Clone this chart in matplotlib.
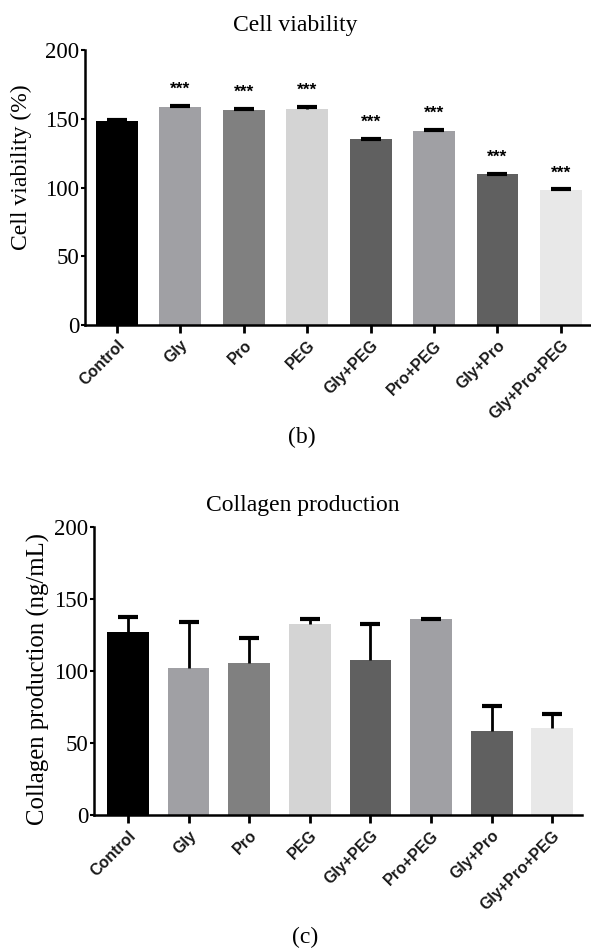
import numpy as np
import matplotlib
matplotlib.use("Agg")
import matplotlib.pyplot as plt

groups = ["Control", "Gly", "Pro", "PEG", "Gly+PEG", "Pro+PEG", "Gly+Pro", "Gly+Pro+PEG"]
colors = ["#000000", "#a0a0a4", "#808080", "#d4d4d4",
          "#606060", "#a0a0a4", "#606060", "#e8e8e8"]

viability = [148.6, 158.5, 156.4, 157.6, 135.5, 141.0, 110.3, 98.0]
viability_err = [0.6, 1.2, 1.0, 1.0, 0.0, 1.0, 0.0, 0.8]
viability_sig = ["", "***", "***", "***", "***", "***", "***", "***"]

collagen = [127.3, 102.0, 106.0, 133.0, 108.0, 136.0, 58.3, 60.6]
collagen_err = [10.3, 32.3, 17.1, 3.0, 24.4, 0.5, 17.6, 9.7]

SERIF = "Liberation Serif"
SANS = "Liberation Sans"

fig = plt.figure(figsize=(5.91, 9.48), dpi=100)


def bar_panel(ax, vals, errs, ylabel, label_size, xlim, width):
    x = np.arange(len(groups))
    ax.bar(x, vals, width=width, color=colors, zorder=2)
    _, caps, _ = ax.errorbar(x, vals, yerr=[np.zeros(len(errs)), errs],
                             fmt="none", ecolor="black", elinewidth=2,
                             capsize=7.5, capthick=3, zorder=3)
    caps[0].set_visible(False)  # only the upper cap
    ax.set_xlim(*xlim)
    ax.set_ylim(0, 200)
    ax.set_yticks([0, 50, 100, 150, 200])
    ax.set_xticks(x)
    ax.set_xticklabels(groups, rotation=45, ha="right", rotation_mode="anchor",
                       fontfamily=SANS, fontweight="bold", fontsize=11.5,
                       color="#1a1a1a")
    for lab in ax.get_yticklabels():
        lab.set_fontfamily(SERIF)
        lab.set_fontsize(16.5)
    ax.tick_params(axis="y", length=3, width=1.5, pad=1)
    ax.tick_params(axis="x", length=6, width=2, pad=3)
    for s in ["top", "right"]:
        ax.spines[s].set_visible(False)
    for s in ["left", "bottom"]:
        ax.spines[s].set_linewidth(1.8)
    ax.set_ylabel(ylabel, fontfamily=SERIF, fontsize=label_size)


ax1 = fig.add_axes([85 / 591, 0.657, 505 / 591, 0.290])
bar_panel(ax1, viability, viability_err, "Cell viability (%)", 17,
          (-0.505, 7.46), 0.66)
ax1.yaxis.set_label_coords(-0.105, 0.576)
for i, (v, e, s) in enumerate(zip(viability, viability_err, viability_sig)):
    if s:
        ax1.text(i, v + e + 6.5, s, ha="center", va="bottom",
                 fontfamily=SANS, fontweight="bold", fontsize=12.5)
fig.text(295 / 591, 1 - 25 / 948, "Cell viability", ha="center", va="center",
         fontfamily=SERIF, fontsize=17)
fig.text(302 / 591, 1 - 437 / 948, "(b)", ha="center", va="center",
         fontfamily=SERIF, fontsize=17)

ax2 = fig.add_axes([94 / 591, 0.140, 488 / 591, 0.304])
bar_panel(ax2, collagen, collagen_err, "Collagen production (ng/mL)", 17.8,
          (-0.56, 7.49), 0.69)
ax2.yaxis.set_label_coords(-0.09, 0.474)
fig.text(303 / 591, 1 - 505 / 948, "Collagen production", ha="center",
         va="center", fontfamily=SERIF, fontsize=17)
fig.text(305 / 591, 1 - 937 / 948, "(c)", ha="center", va="center",
         fontfamily=SERIF, fontsize=17)

fig.savefig("out.png", dpi=100)
